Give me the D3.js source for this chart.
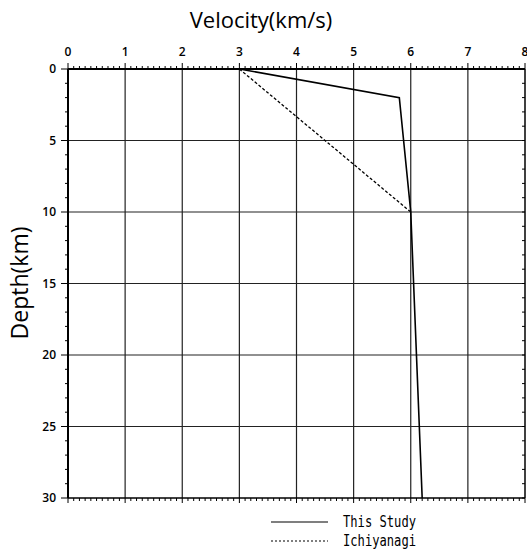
<!DOCTYPE html>
<html>
<head>
<meta charset="utf-8">
<script src="https://cdn.jsdelivr.net/npm/d3@7"></script>
<style>
body { margin: 0; background: #fff; }
svg { display: block; }
</style>
</head>
<body>
<svg id="chart"></svg>
<script>
var width = 527, height = 549

// models: [velocity km/s, depth km]
var thisStudy = [[3.0, 0], [5.8, 2], [6.0, 10], [6.2, 30]]
var ichiyanagi = [[3.0, 0], [6.0, 10]]
var velocityTicks = [0, 1, 2, 3, 4, 5, 6, 7, 8]
var depthTicks = [0, 5, 10, 15, 20, 25, 30]
var legendLabels = ["This Study", "Ichiyanagi"]

// plot box (window.top is reserved, so prefixed names)
var pLeft = 68, pRight = 525, pTop = 69, pBottom = 498

var svg = d3.select("#chart")
    .attr("width", width)
    .attr("height", height)

var x = d3.scaleLinear().domain([0, 8]).range([pLeft, pRight])
var y = d3.scaleLinear().domain([0, 30]).range([pTop, pBottom])

// grid
svg.append("g")
    .selectAll("line")
    .data(velocityTicks.slice(1, -1))
    .enter().append("line")
        .attr("x1", d => x(d)).attr("x2", d => x(d))
        .attr("y1", pTop).attr("y2", pBottom)
        .attr("stroke", "#222").attr("stroke-width", 1.2)
svg.append("g")
    .selectAll("line")
    .data(depthTicks.slice(1, -1))
    .enter().append("line")
        .attr("x1", pLeft).attr("x2", pRight)
        .attr("y1", d => y(d)).attr("y2", d => y(d))
        .attr("stroke", "#222").attr("stroke-width", 1.2)

// minor ticks
var minorV = d3.range(0, 81, 1).map(d => d / 10)
var minorD = d3.range(0, 31, 1)

svg.append("g").selectAll("line").data(minorV).enter().append("line")
    .attr("x1", d => x(d)).attr("x2", d => x(d))
    .attr("y1", pTop).attr("y2", d => Number.isInteger(d) ? pTop - 6 : pTop - 3)
    .attr("stroke", "#000").attr("stroke-width", 1)
svg.append("g").selectAll("line").data(minorV).enter().append("line")
    .attr("x1", d => x(d)).attr("x2", d => x(d))
    .attr("y1", pBottom).attr("y2", d => Number.isInteger(d) ? pBottom + 5 : pBottom + 3)
    .attr("stroke", "#000").attr("stroke-width", 1)
svg.append("g").selectAll("line").data(minorD).enter().append("line")
    .attr("x1", pLeft).attr("x2", d => d % 5 == 0 ? pLeft - 7 : pLeft - 3)
    .attr("y1", d => y(d)).attr("y2", d => y(d))
    .attr("stroke", "#000").attr("stroke-width", 1)
svg.append("g").selectAll("line").data(minorD).enter().append("line")
    .attr("x1", pRight).attr("x2", pRight - 3)
    .attr("y1", d => y(d)).attr("y2", d => y(d))
    .attr("stroke", "#000").attr("stroke-width", 1)

// frame
svg.append("line").attr("x1", pLeft).attr("x2", pRight).attr("y1", pTop).attr("y2", pTop)
    .attr("stroke", "#000").attr("stroke-width", 2)
svg.append("line").attr("x1", pLeft).attr("x2", pRight).attr("y1", pBottom).attr("y2", pBottom)
    .attr("stroke", "#000").attr("stroke-width", 1.5)
svg.append("line").attr("x1", pLeft).attr("x2", pLeft).attr("y1", pTop).attr("y2", pBottom)
    .attr("stroke", "#000").attr("stroke-width", 2)
svg.append("line").attr("x1", pRight).attr("x2", pRight).attr("y1", pTop).attr("y2", pBottom)
    .attr("stroke", "#000").attr("stroke-width", 1.5)

// tick labels
svg.append("g").selectAll("text").data(velocityTicks).enter().append("text")
    .attr("x", d => x(d)).attr("y", pTop - 13)
    .attr("text-anchor", "middle")
    .style("font", "600 12px 'Open Sans', sans-serif")
    .text(d => d)
svg.append("g").selectAll("text").data(depthTicks).enter().append("text")
    .attr("x", pLeft - 12).attr("y", d => y(d) + 4)
    .attr("text-anchor", "end")
    .style("font", "600 12px 'Open Sans', sans-serif")
    .text(d => d)

// titles
svg.append("text")
    .attr("x", 261).attr("y", 28)
    .attr("text-anchor", "middle")
    .style("font", "22px 'Open Sans', sans-serif")
    .text("Velocity(km/s)")
svg.append("text")
    .attr("transform", "translate(28,283) rotate(-90)")
    .attr("text-anchor", "middle")
    .style("font", "23px 'Open Sans', sans-serif")
    .text("Depth(km)")

// profiles
var line = d3.line().x(d => x(d[0])).y(d => y(d[1]))
svg.append("path").datum(ichiyanagi)
    .attr("d", line).attr("fill", "none")
    .attr("stroke", "#000").attr("stroke-width", 1.3)
    .attr("stroke-dasharray", "3,2")
svg.append("path").datum(thisStudy)
    .attr("d", line).attr("fill", "none")
    .attr("stroke", "#000").attr("stroke-width", 1.6)

// legend
var legend = svg.append("g")
legend.selectAll("line").data(legendLabels).enter().append("line")
    .attr("x1", 271).attr("x2", 328)
    .attr("y1", (d, i) => 522 + i * 19).attr("y2", (d, i) => 522 + i * 19)
    .attr("stroke", "#000").attr("stroke-width", 1.2)
    .attr("stroke-dasharray", (d, i) => i ? "2,2" : null)
legend.selectAll("text").data(legendLabels).enter().append("text")
    .attr("x", 343).attr("y", (d, i) => 527 + i * 19)
    .attr("textLength", 73).attr("lengthAdjust", "spacingAndGlyphs")
    .style("font", "15px 'DejaVu Sans Mono', monospace")
    .text(d => d)
</script>
</body>
</html>
